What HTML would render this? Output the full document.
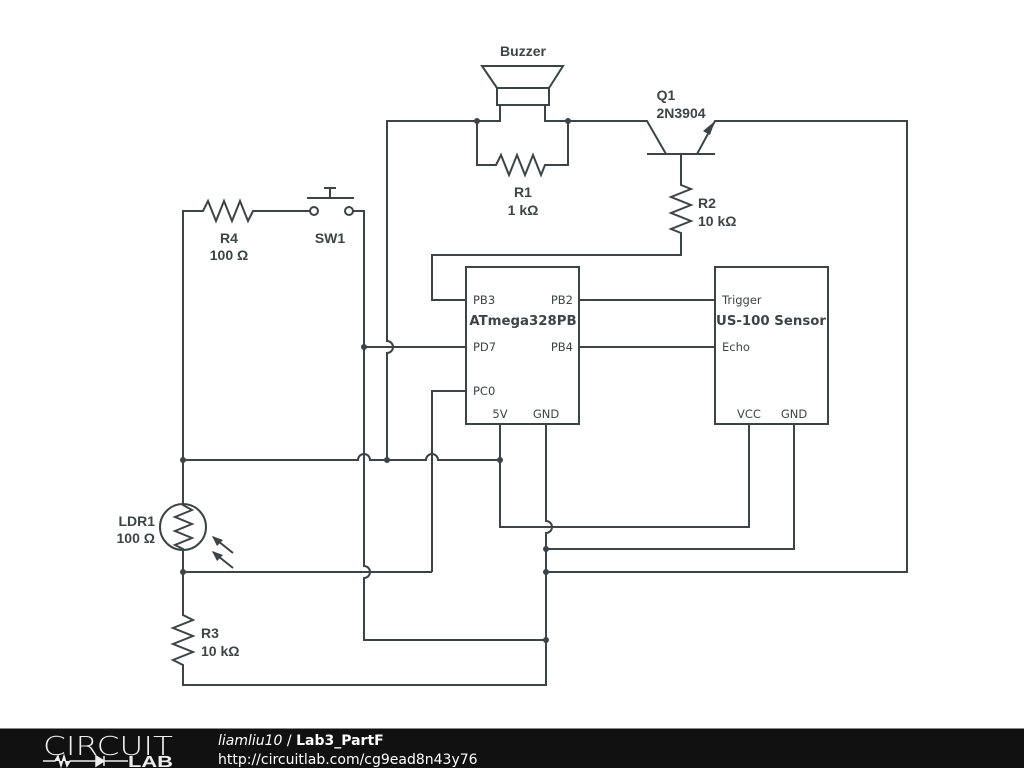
<!DOCTYPE html>
<html><head><meta charset="utf-8"><style>
html,body{margin:0;padding:0;background:#fff;width:1024px;height:768px;overflow:hidden}
svg{display:block}
.l{font-family:"Liberation Sans",Arial,sans-serif;font-weight:bold;font-size:14px;fill:#3d4447}
.p{font-family:"DejaVu Sans",sans-serif;font-size:11.5px;fill:#3d4447}
.b{font-family:"DejaVu Sans",sans-serif;font-weight:bold;font-size:13.3px;fill:#3d4447}
</style></head><body>
<svg width="1024" height="768" viewBox="0 0 1024 768">
<g fill="none" stroke="#3d4447" stroke-width="2" stroke-linejoin="miter">
<path d="M387 460 V353 A6 6 0 0 0 387 341 V121 H500 V105 M545 105 V121 H647 L666 154"/>
<path d="M482 66 H563 L549 88 H497 Z"/>
<rect x="497" y="88" width="52" height="17"/>
<path d="M477 121 V165 H496 L501 155 L509 175 L517 155 L525 175 L533 155 L541 175 L545 165 H568 V121"/>
<path d="M647 154 H715"/>
<path d="M697 154 L715 121 H907 V572 H546"/>
<path d="M681 154 V185 L691 189 L671 197 L691 205 L671 213 L691 221 L671 229 L681 233 V255 H432 V300 H466"/>
<rect x="466" y="267" width="113" height="157"/>
<rect x="715" y="267" width="113" height="157"/>
<path d="M579 300 H715 M579 347 H715"/>
<path d="M183 460 V211 H203 L208 201 L216 221 L224 201 L232 221 L240 201 L248 221 L253 211 H310"/>
<circle cx="314" cy="211" r="4" fill="#fff"/>
<circle cx="349" cy="211" r="4" fill="#fff"/>
<path d="M307 198 H354 M330 198 V188 M324 188 H336"/>
<path d="M353 211 H364 V566 A6 6 0 0 1 364 578 V640 H546"/>
<path d="M364 347 H466"/>
<path d="M183 460 H358 A6 6 0 0 1 370 460 H426 A6 6 0 0 1 438 460 H500"/>
<path d="M466 391 H432 V572"/>
<circle cx="183" cy="527" r="23"/>
<path d="M183 460 V505 L192 510 L175 517 L192 524 L175 531 L192 538 L175 545 L183 549 V615 L193 620 L173 628 L193 636 L173 644 L193 652 L173 660 L183 665 V685 H546 V533 A6 6 0 0 0 546 521 V424"/>
<path d="M183 572 H432"/>
<path d="M233 553 L213 537 M233 568 L213 552"/>
<path d="M500 424 V527 H749 V424"/>
<path d="M794 424 V549 H546"/>
</g>
<g fill="#3d4447">
<path d="M212 536 L223 540 L217 546 Z M212 551 L223 555 L217 561 Z"/>
<path d="M715 121 L703 131 L710 135 Z"/>
<circle cx="477" cy="121" r="3"/><circle cx="568" cy="121" r="3"/>
<circle cx="364" cy="347" r="3"/><circle cx="183" cy="460" r="3"/>
<circle cx="387" cy="460" r="3"/><circle cx="500" cy="460" r="3"/>
<circle cx="183" cy="572" r="3"/><circle cx="546" cy="549" r="3"/>
<circle cx="546" cy="572" r="3"/><circle cx="546" cy="640" r="3"/>
</g>
<text class="l" x="523" y="56" text-anchor="middle">Buzzer</text>
<text class="l" x="666" y="100" text-anchor="middle">Q1</text>
<text class="l" x="681" y="118" text-anchor="middle">2N3904</text>
<text class="l" x="523" y="197" text-anchor="middle">R1</text>
<text class="l" x="523" y="215" text-anchor="middle">1 kΩ</text>
<text class="l" x="698" y="208">R2</text>
<text class="l" x="698" y="226">10 kΩ</text>
<text class="l" x="229" y="243" text-anchor="middle">R4</text>
<text class="l" x="229" y="260" text-anchor="middle">100 Ω</text>
<text class="l" x="330" y="243" text-anchor="middle">SW1</text>
<text class="l" x="155" y="526" text-anchor="end">LDR1</text>
<text class="l" x="155" y="543" text-anchor="end">100 Ω</text>
<text class="l" x="201" y="638">R3</text>
<text class="l" x="201" y="656">10 kΩ</text>
<text class="p" x="473" y="304">PB3</text>
<text class="p" x="573" y="304" text-anchor="end">PB2</text>
<text class="b" x="523" y="325" text-anchor="middle">ATmega328PB</text>
<text class="p" x="473" y="351">PD7</text>
<text class="p" x="573" y="351" text-anchor="end">PB4</text>
<text class="p" x="473" y="395">PC0</text>
<text class="p" x="500" y="418" text-anchor="middle">5V</text>
<text class="p" x="546" y="418" text-anchor="middle">GND</text>
<text class="p" x="722" y="304">Trigger</text>
<text class="b" x="771" y="325" text-anchor="middle">US-100 Sensor</text>
<text class="p" x="722" y="351">Echo</text>
<text class="p" x="749" y="418" text-anchor="middle">VCC</text>
<text class="p" x="794" y="418" text-anchor="middle">GND</text>
<rect x="0" y="729" width="1024" height="39" fill="#111"/>
<rect x="0" y="728" width="1024" height="1" fill="#888"/>
<text x="43" y="755" font-family="DejaVu Sans,sans-serif" font-size="26" font-weight="200" fill="#eee" textLength="130" lengthAdjust="spacingAndGlyphs">CIRCUIT</text>
<path d="M43 761 H55 L58 756 L61 766 L64 756 L67 766 L70 761 H96 M96 756 L104 761 L96 766 Z M104 756 V766 M104 761 H128" stroke="#eee" stroke-width="1.5" fill="#eee"/>
<text x="128" y="767" font-family="Liberation Sans,sans-serif" font-size="16" font-weight="bold" fill="#eee" textLength="45" lengthAdjust="spacingAndGlyphs">LAB</text>
<text x="218" y="745" font-family="DejaVu Sans,sans-serif" font-size="14" fill="#fff"><tspan font-style="italic">liamliu10</tspan> / <tspan font-weight="bold">Lab3_PartF</tspan></text>
<text x="218" y="764" font-family="DejaVu Sans,sans-serif" font-size="14" fill="#fff">http://circuitlab.com/cg9ead8n43y76</text>
</svg>
</body></html>
